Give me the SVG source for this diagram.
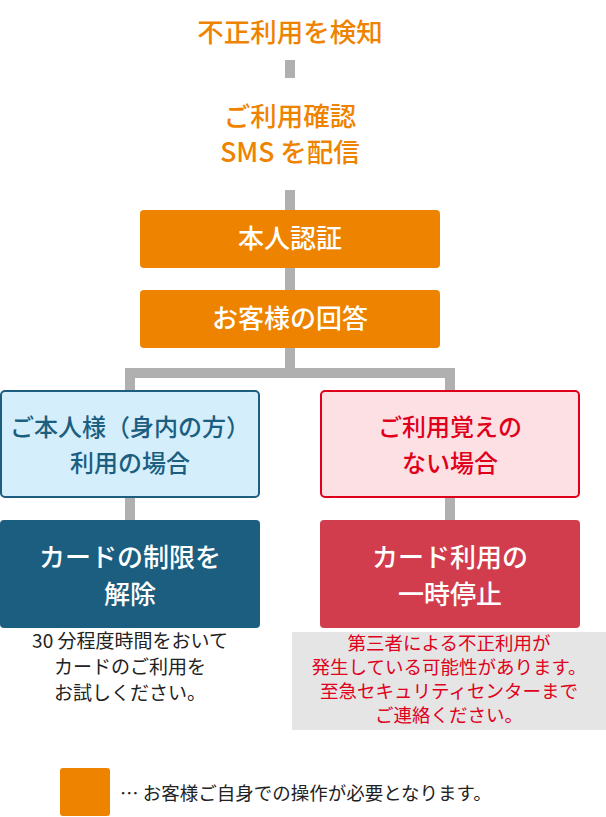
<svg xmlns="http://www.w3.org/2000/svg" width="606" height="817" viewBox="0 0 606 817">
<style>
text{font-family:"Noto Sans CJK JP","Noto Sans",sans-serif;text-anchor:middle}
.o{fill:#ee8300;font-size:26.5px;font-weight:500}
.w{fill:#fff;font-size:26px;font-weight:500}
.b{fill:#1b5e80;font-size:24px;font-weight:500}
.r{fill:#e0001b;font-size:24px;font-weight:500}
.k{fill:#222;font-size:19px}
.rs{fill:#e0001b;font-size:18.5px}
.c{fill:#b0b0b0}
</style>
<g id="connectors">
<rect class="c" x="285" y="60" width="10" height="18"/>
<rect class="c" x="285" y="190" width="10" height="20"/>
<rect class="c" x="285" y="268" width="10" height="22"/>
<rect class="c" x="285" y="348" width="10" height="24"/>
<rect class="c" x="125" y="368" width="330" height="10"/>
<rect class="c" x="125" y="368" width="10" height="22"/>
<rect class="c" x="445" y="368" width="10" height="22"/>
<rect class="c" x="125" y="498" width="10" height="22"/>
<rect class="c" x="445" y="498" width="10" height="22"/>
</g>
<g id="detect"><text class="o" x="290" y="42">不正利用を検知</text></g>
<g id="sms"><text class="o" x="290" y="126">ご利用確認</text><text class="o" x="290" y="162">SMS を配信</text></g>
<g id="auth"><rect x="140" y="210" width="300" height="58" rx="4" fill="#ee8300"/><text class="w" x="290" y="248">本人認証</text></g>
<g id="answer"><rect x="140" y="290" width="300" height="58" rx="4" fill="#ee8300"/><text class="w" x="290" y="328">お客様の回答</text></g>
<g id="self"><rect x="1" y="391" width="258" height="106" rx="4" fill="#d4eefc" stroke="#1b5e80" stroke-width="2"/><text class="b" x="130" y="436">ご本人様（身内の方）</text><text class="b" x="130" y="472">利用の場合</text></g>
<g id="notme"><rect x="321" y="391" width="258" height="106" rx="4" fill="#fde0e3" stroke="#e0001b" stroke-width="2"/><text class="r" x="450" y="436">ご利用覚えの</text><text class="r" x="450" y="472">ない場合</text></g>
<g id="unlock"><rect x="0" y="520" width="260" height="108" rx="4" fill="#1b5e80"/><text class="w" x="130" y="567">カードの制限を</text><text class="w" x="130" y="604">解除</text></g>
<g id="stop"><rect x="320" y="520" width="260" height="108" rx="4" fill="#d13d4d"/><text class="w" x="450" y="567">カード利用の</text><text class="w" x="450" y="604">一時停止</text></g>
<g id="note1"><text class="k" x="130" y="648">30 分程度時間をおいて</text><text class="k" x="130" y="674">カードのご利用を</text><text class="k" x="130" y="700">お試しください。</text></g>
<g id="note2"><rect x="292" y="632" width="314" height="98" fill="#e5e5e5"/><text class="rs" x="449" y="650">第三者による不正利用が</text><text class="rs" x="449" y="674">発生している可能性があります。</text><text class="rs" x="449" y="698">至急セキュリティセンターまで</text><text class="rs" x="449" y="722">ご連絡ください。</text></g>
<g id="legend"><rect x="60" y="768" width="50" height="48" rx="3" fill="#ee8300"/><text x="120" y="800" style="text-anchor:start;font-size:18.5px;fill:#222">…  お客様ご自身での操作が必要となります。</text></g>
</svg>
